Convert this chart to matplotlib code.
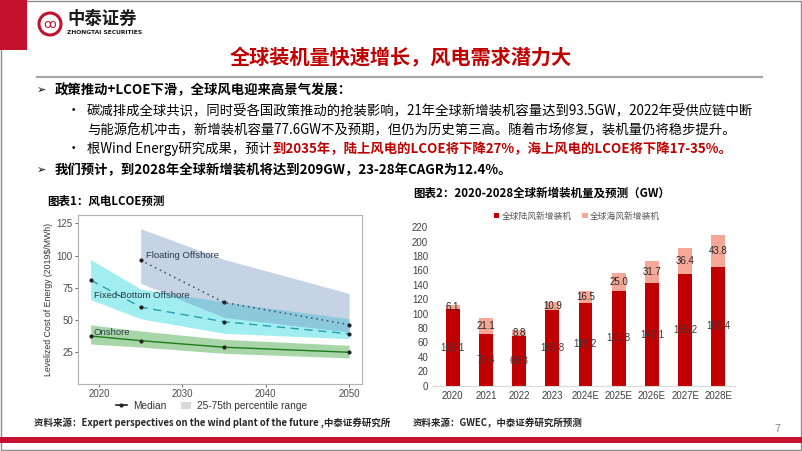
import matplotlib.pyplot as plt
from matplotlib.patches import Rectangle, Circle, Patch
from matplotlib.lines import Line2D

plt.rcParams['font.family'] = ['Noto Sans CJK SC', 'DejaVu Sans']

# ---- 图表1 LCOE data (2019$/MWh) ----
lcoe_years = [2019, 2025, 2035, 2050]
float_years = [2025, 2035, 2050]
onshore_med = [37.6, 34.0, 28.9, 25.0]
onshore_lo = [31.4, 29.0, 24.2, 20.6]
onshore_hi = [46.2, 41.5, 35.0, 30.4]
fixed_med = [81.0, 60.0, 48.7, 39.3]
fixed_lo = [65.8, 51.0, 39.7, 35.5]
fixed_hi = [96.8, 74.0, 64.0, 51.0]
float_med = [96.3, 63.6, 46.4]
float_lo = [78.5, 52.0, 40.7]
float_hi = [120.8, 97.0, 70.6]

# ---- 图表2 new installations (GW) ----
years = ["2020", "2021", "2022", "2023", "2024E", "2025E", "2026E", "2027E", "2028E"]
onshore_gw = [106.1, 72.4, 68.8, 105.8, 115.2, 131.8, 142.1, 155.2, 165.4]
offshore_gw = [6.1, 21.1, 8.8, 10.9, 16.5, 25.0, 31.7, 36.4, 43.8]

W, H = 802, 451
RED = "#c00000"

fig = plt.figure(figsize=(W / 100, H / 100), dpi=100)
bg = fig.add_axes([0, 0, 1, 1])
bg.set_xlim(0, W)
bg.set_ylim(H, 0)
bg.axis("off")

# slide frame / header
bg.add_patch(Rectangle((0.5, 0.5), W - 1.5, H - 1.5, fill=False, ec="#8c8c8c", lw=1))
bg.add_patch(Rectangle((0, 0), 27, 50, color="#c3112f", lw=0))
bg.add_patch(Circle((50, 24), 11, fill=False, ec="#c3112f", lw=2.2))
bg.text(50, 24.5, "ꝏ", ha="center", va="center", color="#c3112f", fontsize=9, family=["DejaVu Sans"])
bg.text(67, 19, "中泰证券", ha="left", va="center", fontsize=12.5, weight="bold", color="#1a1a1a")
bg.text(67, 33, "ZHONGTAI SECURITIES", ha="left", va="center", fontsize=4.3, weight="bold", color="#1a1a1a",
        family=["DejaVu Sans"])
bg.add_patch(Rectangle((0, 437), W, 6, color="#c3112f", lw=0))
bg.text(778, 429, "7", ha="center", va="center", fontsize=8, color="#8c8c8c")

bg.text(401, 58, "全球装机量快速增长，风电需求潜力大", ha="center", va="center", fontsize=14.5,
        weight="bold", color=RED)
bg.plot([37, 762], [77, 77], color="#a6a6a6", lw=1.6)

# bullets
fs = 9.6
bg.text(41, 90, "➢", ha="center", va="center", fontsize=8, family=["DejaVu Sans"])
bg.text(55, 90, "政策推动+LCOE下滑，全球风电迎来高景气发展：", va="center", fontsize=fs, weight="bold")
bg.text(73, 111, "•", ha="center", va="center", fontsize=fs)
bg.text(87, 111, "碳减排成全球共识，同时受各国政策推动的抢装影响，21年全球新增装机容量达到93.5GW，2022年受供应链中断",
        va="center", fontsize=fs)
bg.text(87, 130, "与能源危机冲击，新增装机容量77.6GW不及预期，但仍为历史第三高。随着市场修复，装机量仍将稳步提升。",
        va="center", fontsize=fs)
bg.text(73, 149, "•", ha="center", va="center", fontsize=fs)
t1 = bg.text(87, 149, "根Wind Energy研究成果，预计", va="center", fontsize=fs)
bg.annotate("到2035年，陆上风电的LCOE将下降27%，海上风电的LCOE将下降17-35%。", xy=(1, 0.5),
            xycoords=t1, va="center", ha="left", fontsize=fs, weight="bold", color=RED)
bg.text(41, 170, "➢", ha="center", va="center", fontsize=8, family=["DejaVu Sans"])
bg.text(55, 170, "我们预计，到2028年全球新增装机将达到209GW，23-28年CAGR为12.4%。", va="center",
        fontsize=fs, weight="bold")

# chart titles and sources
bg.text(47, 201, "图表1：风电LCOE预测", va="center", fontsize=8.3, weight="bold")
bg.text(413, 193, "图表2：2020-2028全球新增装机量及预测（GW）", va="center", fontsize=8.3, weight="bold")
bg.text(34, 423, "资料来源：Expert perspectives on the wind plant of the future ,中泰证券研究所", va="center",
        fontsize=6.8, weight="bold", color="#262626")
bg.text(413, 423, "资料来源：GWEC，中泰证券研究所预测", va="center", fontsize=6.8, weight="bold", color="#262626")

# ---- left chart ----
ax1 = fig.add_axes([77.7 / W, 1 - 384 / H, 284.3 / W, 169 / H])
ax1.fill_between(lcoe_years, onshore_lo, onshore_hi, color="#a9d6a9", lw=0)
ax1.fill_between(lcoe_years, fixed_lo, fixed_hi, color="#a0eef0", lw=0)
ax1.fill_between(float_years, float_lo, float_hi, color="#6e91be", alpha=0.4, lw=0)
ax1.plot(lcoe_years, onshore_med, color="#1e7b1e", lw=1, marker="o", ms=2, mfc="#222", mec="#222")
ax1.plot(lcoe_years, fixed_med, color="#2a9eae", lw=1, ls=(0, (6, 4)), marker="o", ms=2, mfc="#222", mec="#222")
ax1.plot(float_years, float_med, color="#3b4d6e", lw=1.1, ls=(0, (1, 2.5)), marker="o", ms=2, mfc="#222",
         mec="#222")
lab = dict(fontsize=6.8, color="#2b3a4a", family=["Liberation Sans"])
ax1.text(2025.6, 100, "Floating Offshore", va="center", **lab)
ax1.text(2019.4, 69, "Fixed-Bottom Offshore", va="center", **lab)
ax1.text(2019.4, 40.5, "Onshore", va="center", **lab)
ax1.set_xlim(2017.45, 2051.55)
ax1.set_ylim(0.4, 131.4)
ax1.set_xticks([2020, 2030, 2040, 2050])
ax1.set_yticks([25, 50, 75, 100, 125])
ax1.tick_params(labelsize=7, labelcolor="#4d4d4d", color="#4d4d4d", length=2, width=0.6, pad=1.5)
for lbl in ax1.get_xticklabels() + ax1.get_yticklabels():
    lbl.set_family(["Liberation Sans"])
for s in ax1.spines.values():
    s.set_color("#b3b3b3")
    s.set_linewidth(0.8)
ax1.set_ylabel(r"Levelized Cost of Energy (2019\$/MWh)", fontsize=6.3, color="#333333",
               family=["Liberation Sans"], labelpad=3)

fig.legend(handles=[Line2D([], [], color="#222", lw=1.2, marker="o", ms=2),
                    Patch(facecolor="#d9d9d9", edgecolor="none")],
           labels=["Median", "25-75th percentile range"], loc="center", bbox_to_anchor=(212 / W, 1 - 406 / H),
           ncol=2, frameon=False, prop={"family": "Liberation Sans", "size": 7.3}, handlelength=1.0,
           handletextpad=0.6, columnspacing=1.5, labelcolor="#333333")

# ---- right chart ----
ax2 = fig.add_axes([433 / W, 1 - 385.7 / H, 302 / W, 158.4 / H])
x = list(range(len(years)))
b1 = ax2.bar(x, onshore_gw, width=0.42, color=RED, label="全球陆风新增装机")
b2 = ax2.bar(x, offshore_gw, bottom=onshore_gw, width=0.42, color="#f6a898", label="全球海风新增装机")
ax2.bar_label(b1, labels=[f"{v:.1f}" for v in onshore_gw], label_type="center", fontsize=7, color="#3a3a3a",
              family=["Liberation Sans"])
ax2.bar_label(b2, labels=[f"{v:.1f}" for v in offshore_gw], label_type="center", fontsize=7, color="#262626",
              family=["Liberation Sans"])
ax2.set_xlim(-0.59, 8.5)
ax2.set_ylim(0, 220)
ax2.set_yticks(range(0, 221, 20))
ax2.set_xticks(x)
ax2.set_xticklabels(years)
ax2.tick_params(axis="both", length=0, labelsize=7, labelcolor="#404040")
ax2.tick_params(axis="x", pad=4)
for lbl in ax2.get_xticklabels() + ax2.get_yticklabels():
    lbl.set_family(["Liberation Sans"])
for side in ["left", "top", "right"]:
    ax2.spines[side].set_visible(False)
ax2.spines["bottom"].set_color("#d9d9d9")
fig.legend(handles=[b1, b2], loc="center", bbox_to_anchor=(577 / W, 1 - 216 / H), ncol=2, frameon=False,
           fontsize=6.3, handlelength=0.6, handleheight=0.6, handletextpad=0.3, columnspacing=1.2,
           labelcolor="#595959")

fig.savefig("out.png", dpi=100)
